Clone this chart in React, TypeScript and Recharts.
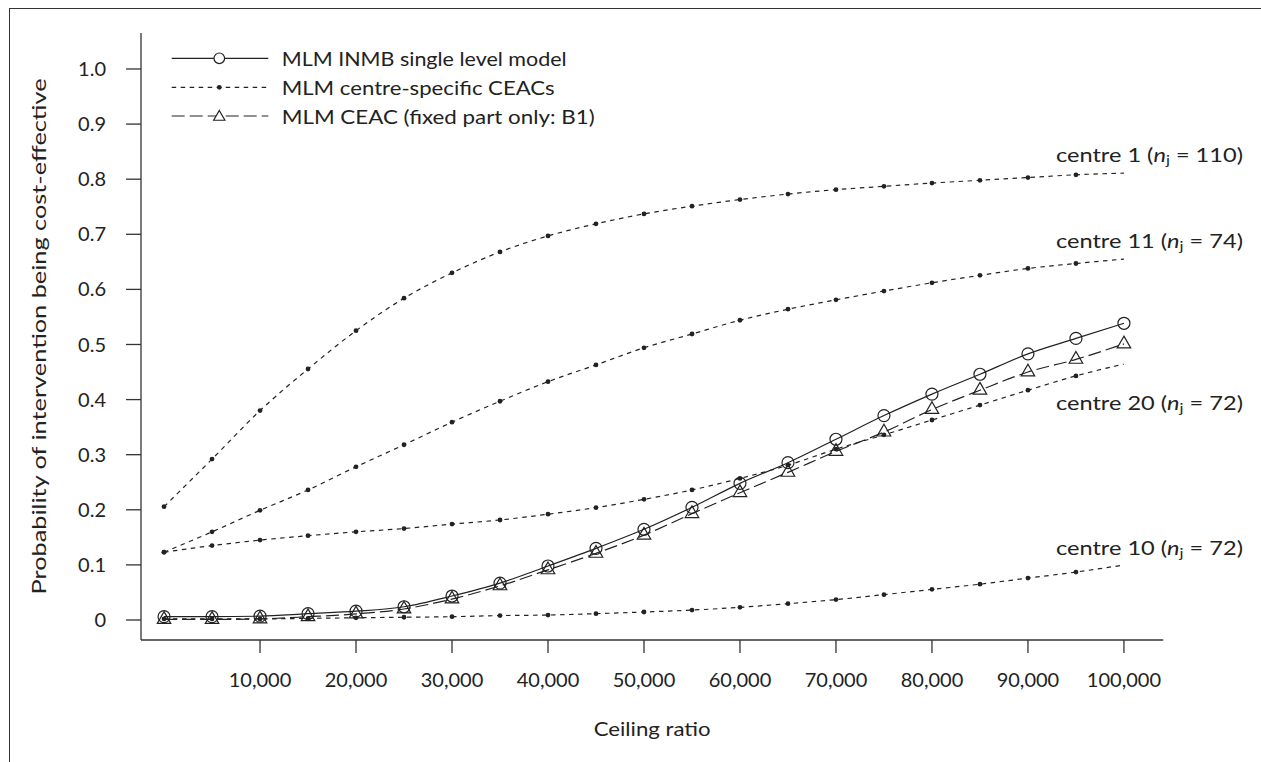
import React from 'react';
import { LineChart, Line, XAxis, YAxis, Legend, ReferenceDot, Label } from 'recharts';

const ceilingRatio = [0, 5000, 10000, 15000, 20000, 25000, 30000, 35000, 40000, 45000, 50000, 55000, 60000, 65000, 70000, 75000, 80000, 85000, 90000, 95000, 100000];
const inmbSingle = [0.006, 0.006, 0.007, 0.0115, 0.016, 0.024, 0.0435, 0.067, 0.098, 0.13, 0.1646, 0.2045, 0.248, 0.2855, 0.328, 0.371, 0.41, 0.446, 0.483, 0.511, 0.5385];
const ceacFixed = [0.001, 0.001, 0.002, 0.006, 0.011, 0.02, 0.038, 0.062, 0.091, 0.121, 0.154, 0.193, 0.231, 0.268, 0.306, 0.341, 0.382, 0.417, 0.45, 0.473, 0.501];
const centre1 = [0.2056, 0.292, 0.38, 0.4555, 0.525, 0.584, 0.63, 0.668, 0.697, 0.719, 0.737, 0.751, 0.763, 0.773, 0.781, 0.787, 0.793, 0.798, 0.803, 0.808, 0.811];
const centre11 = [0.123, 0.16, 0.199, 0.236, 0.278, 0.318, 0.359, 0.397, 0.4325, 0.463, 0.494, 0.519, 0.544, 0.564, 0.581, 0.597, 0.612, 0.6255, 0.638, 0.647, 0.655];
const centre20 = [0.123, 0.135, 0.145, 0.153, 0.16, 0.166, 0.174, 0.1815, 0.192, 0.204, 0.219, 0.236, 0.257, 0.281, 0.31, 0.336, 0.363, 0.39, 0.417, 0.443, 0.4646];
const centre10 = [0.002, 0.002, 0.002, 0.003, 0.004, 0.005, 0.006, 0.008, 0.009, 0.0115, 0.0145, 0.018, 0.023, 0.0296, 0.037, 0.046, 0.0556, 0.065, 0.076, 0.087, 0.0998];

const xTicks = [10000, 20000, 30000, 40000, 50000, 60000, 70000, 80000, 90000, 100000];
const yTicks = [0, 0.1, 0.2, 0.3, 0.4, 0.5, 0.6, 0.7, 0.8, 0.9, 1.0];

const legendLabels = ['MLM INMB single level model', 'MLM centre-specific CEACs', 'MLM CEAC (fixed part only: B1)'];
const centreNames = ['centre 1', 'centre 11', 'centre 20', 'centre 10'];
const centreN = [110, 74, 72, 72];

const data = ceilingRatio.map((x, i) => ({
  x,
  inmb: inmbSingle[i],
  ceac: ceacFixed[i],
  c1: centre1[i],
  c11: centre11[i],
  c20: centre20[i],
  c10: centre10[i],
}));

const INK = '#222';
const FONT = 'Lato, "Open Sans", sans-serif';
const FS = 20;

const CircleDot = (props: any) => {
  const { cx, cy, index } = props;
  return <circle key={'c' + index} cx={cx} cy={cy} r={6} fill="none" stroke={INK} strokeWidth={1.2} />;
};

const triPoints = (cx: number, cy: number, r: number) =>
  `${cx},${cy - r} ${cx + r * 0.866},${cy + r / 2} ${cx - r * 0.866},${cy + r / 2}`;

const TriangleDot = (props: any) => {
  const { cx, cy, index } = props;
  return <polygon key={'t' + index} points={triPoints(cx, cy, 7.8)} fill="none" stroke={INK} strokeWidth={1.2} />;
};

const SmallDot = (props: any) => {
  const { cx, cy, index } = props;
  if (index === ceilingRatio.length - 1) return <g key={'s' + index} />;
  return <circle key={'s' + index} cx={cx} cy={cy} r={2.4} fill={INK} stroke="none" />;
};

const legendLengths = [285, 273, 313];

const renderLegend = () => {
  const rows = [28.3, 57.3, 86];
  const x1 = 31.7, x2 = 128.3, xm = 79.3, xt = 141.7;
  return (
    <svg width={470} height={100} style={{ display: 'block', overflow: 'visible' }}>
      <line x1={x1} x2={x2} y1={rows[0]} y2={rows[0]} stroke={INK} strokeWidth={1.2} />
      <circle cx={xm} cy={rows[0]} r={5.3} fill="#fff" stroke={INK} strokeWidth={1.2} />
      <line x1={x1} x2={x2} y1={rows[1]} y2={rows[1]} stroke={INK} strokeWidth={1.2} strokeDasharray="4.5 4.5" />
      <circle cx={xm} cy={rows[1]} r={2.4} fill={INK} />
      <line x1={x1} x2={x2} y1={rows[2]} y2={rows[2]} stroke={INK} strokeWidth={1.2} strokeDasharray="13 5" />
      <polygon points={triPoints(xm, rows[2] + 1, 6.5)} fill="#fff" stroke={INK} strokeWidth={1.2} />
      {legendLabels.map((t, i) => (
        <text
          key={t}
          x={xt}
          y={rows[i]}
          dominantBaseline="central"
          fontFamily={FONT}
          fontSize={FS}
          fill={INK}
          textLength={legendLengths[i]}
          lengthAdjust="spacingAndGlyphs"
        >
          {t}
        </text>
      ))}
    </svg>
  );
};

const centreLabel = (i: number) => (props: any) => {
  const vb = props.viewBox || {};
  const x = (vb.x || 0) + 119;
  const y = vb.y || 0;
  return (
    <text
      x={x - 187}
      y={y}
      textAnchor="start"
      dominantBaseline="central"
      fontFamily={FONT}
      fontSize={FS}
      fill={INK}
      textLength={187}
      lengthAdjust="spacingAndGlyphs"
    >
      {centreNames[i]} (
      <tspan fontStyle="italic">n</tspan>
      <tspan dy={5} fontSize={14}>j</tspan>
      <tspan dy={-5}> = {centreN[i]})</tspan>
    </text>
  );
};

const labelYs = [0.845, 0.69, 0.396, 0.1325];

const fmtX = (v: number) => v.toLocaleString('en-US');
const fmtY = (v: number) => (v === 0 ? '0' : v.toFixed(1));

export default function App() {
  return (
    <div style={{ position: 'absolute', left: 0, top: 0, width: 1261, height: 762, background: '#fff', fontFamily: FONT }}>
      <div
        style={{
          position: 'absolute',
          left: 9,
          top: 8,
          width: 1252,
          height: 754,
          borderTop: `1.5px solid #333`,
          borderLeft: `1.5px solid #333`,
          boxSizing: 'border-box',
        }}
      />
      <div style={{ position: 'absolute', left: 0, top: 0 }}>
        <LineChart width={1261} height={762} data={data} margin={{ top: 33, right: 97.7, bottom: 0, left: 0 }}>
          <XAxis
            dataKey="x"
            type="number"
            domain={[-2400, 104100]}
            ticks={xTicks}
            tickFormatter={fmtX}
            allowDataOverflow
            height={122}
            tickSize={13}
            tickMargin={20}
            stroke="#333"
            strokeWidth={1.3}
            tick={{ fill: INK, fontSize: FS, fontFamily: FONT }}
          >
            <Label
              content={(p: any) => {
                const vb = p.viewBox || {};
                const cx = (vb.x || 0) + (vb.width || 0) / 2;
                return (
                  <text
                    x={cx - 58.5}
                    y={(vb.y || 0) + 88}
                    textAnchor="start"
                    dominantBaseline="central"
                    fontFamily={FONT}
                    fontSize={FS}
                    fill={INK}
                    textLength={117}
                    lengthAdjust="spacingAndGlyphs"
                  >
                    Ceiling ratio
                  </text>
                );
              }}
            />
          </XAxis>
          <YAxis
            type="number"
            domain={[-0.0363, 1.0653]}
            ticks={yTicks}
            tickFormatter={fmtY}
            allowDataOverflow
            width={141}
            tickSize={15}
            tickMargin={20}
            stroke="#333"
            strokeWidth={1.3}
            tick={{ fill: INK, fontSize: FS, fontFamily: FONT }}
          >
            <Label
              content={(p: any) => {
                const vb = p.viewBox || {};
                const cy = (vb.y || 0) + (vb.height || 0) / 2;
                return (
                  <text
                    x={38}
                    y={cy + 258}
                    transform={`rotate(-90, 38, ${cy + 258})`}
                    textAnchor="start"
                    dominantBaseline="central"
                    fontFamily={FONT}
                    fontSize={FS}
                    fill={INK}
                    textLength={516}
                    lengthAdjust="spacingAndGlyphs"
                  >
                    Probability of intervention being cost-effective
                  </text>
                );
              }}
            />
          </YAxis>
          <Legend
            content={renderLegend}
            layout="vertical"
            align="center"
            verticalAlign="middle"
            wrapperStyle={{ position: 'absolute', left: 140, top: 30, width: 470, height: 100 }}
          />
          <Line dataKey="c1" type="monotone" stroke={INK} strokeWidth={1.2} strokeDasharray="4.5 4.5" dot={SmallDot} activeDot={false} isAnimationActive={false} />
          <Line dataKey="c11" type="monotone" stroke={INK} strokeWidth={1.2} strokeDasharray="4.5 4.5" dot={SmallDot} activeDot={false} isAnimationActive={false} />
          <Line dataKey="c20" type="monotone" stroke={INK} strokeWidth={1.2} strokeDasharray="4.5 4.5" dot={SmallDot} activeDot={false} isAnimationActive={false} />
          <Line dataKey="c10" type="monotone" stroke={INK} strokeWidth={1.2} strokeDasharray="4.5 4.5" dot={SmallDot} activeDot={false} isAnimationActive={false} />
          <Line dataKey="ceac" type="monotone" stroke={INK} strokeWidth={1.2} strokeDasharray="13 5" dot={TriangleDot} activeDot={false} isAnimationActive={false} />
          <Line dataKey="inmb" type="monotone" stroke={INK} strokeWidth={1.2} dot={CircleDot} activeDot={false} isAnimationActive={false} />
          {labelYs.map((y, i) => (
            <ReferenceDot key={i} x={100000} y={y} r={0} fill="none" stroke="none" label={centreLabel(i)} />
          ))}
        </LineChart>
      </div>
    </div>
  );
}
